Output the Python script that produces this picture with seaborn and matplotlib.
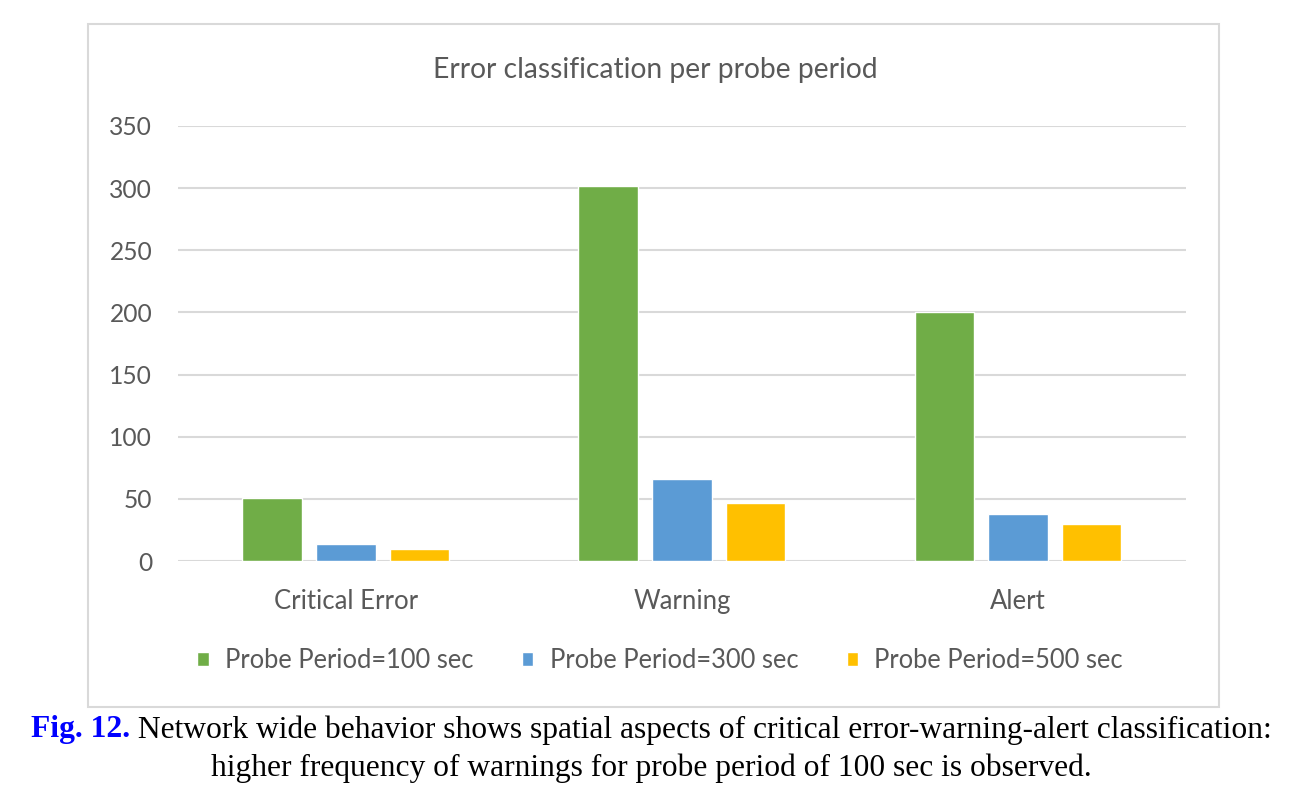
import matplotlib
matplotlib.use("Agg")
from matplotlib import pyplot as plt
from matplotlib.patches import Rectangle
import numpy as np
import pandas as pd
import seaborn as sns

# values
categories = ["Critical Error", "Warning", "Alert"]
periods = ["Probe Period=100 sec", "Probe Period=300 sec", "Probe Period=500 sec"]
p100 = [51, 302, 200]
p300 = [14, 66, 38]
p500 = [10, 47, 30]
colors = ["#70AD47", "#5B9BD5", "#FFC000"]
yticks = [0, 50, 100, 150, 200, 250, 300, 350]

df = pd.DataFrame({
    "category": categories * 3,
    "period": [periods[0]] * 3 + [periods[1]] * 3 + [periods[2]] * 3,
    "count": p100 + p300 + p500,
})

sns.set_style("white")
plt.rcParams["font.family"] = ["Lato", "DejaVu Sans"]
gray = "#595959"

fig = plt.figure(figsize=(13.02, 8.05), dpi=100)
ax = fig.add_axes([0.1367, 0.3031, 0.7742, 0.5404])

sns.barplot(data=df, x="category", y="count", hue="period", hue_order=periods,
            palette=colors, width=0.66, gap=0.2, saturation=1, ax=ax)

ax.set_ylim(0, 350)
ax.set_yticks(yticks)
ax.set_xlim(-0.5, 2.5)
ax.yaxis.grid(True, color="#d9d9d9", linewidth=1.5)
ax.set_axisbelow(True)
for s in ax.spines.values():
    s.set_visible(False)
ax.tick_params(axis="y", length=0, pad=18.5, labelsize=17.7, labelcolor=gray)
ax.tick_params(axis="x", length=0, pad=20, labelsize=18.5, labelcolor=gray)
ax.set_xlabel("")
ax.set_ylabel("")
fig.text(0.503, 0.913, "Error classification per probe period", fontsize=20.3,
         color=gray, ha="center", va="center")

leg = ax.legend(loc="center", bbox_to_anchor=(0.507, 0.179), bbox_transform=fig.transFigure,
                ncol=3, frameon=False, fontsize=18.4, handlelength=0.45, handleheight=0.45,
                columnspacing=1.9, handletextpad=0.63)
for t in leg.get_texts():
    t.set_color(gray)

# chart border
fig.patches.append(Rectangle((0.0676, 0.1217), 0.8687, 0.8484, transform=fig.transFigure,
                             fill=False, edgecolor="#d9d9d9", linewidth=1.5))

# caption
serif = ["Liberation Serif", "DejaVu Serif"]
fig.canvas.draw()
r = fig.canvas.get_renderer()
t1 = fig.text(0, 0.0932, "Fig. 12.", family=serif, fontsize=22.7, fontweight="bold",
              color="#0000FF", va="center")
t2 = fig.text(0, 0.0932, " Network wide behavior shows spatial aspects of critical error-warning-alert classification:",
              family=serif, fontsize=22.7, color="black", va="center")
w1 = t1.get_window_extent(r).width
w2 = t2.get_window_extent(r).width
x0 = (1302 - w1 - w2) / 2 / 1302
t1.set_x(x0)
t2.set_x(x0 + w1 / 1302)
fig.text(0.5, 0.046, "higher frequency of warnings for probe period of 100 sec is observed.",
         family=serif, fontsize=22.7, color="black", va="center", ha="center")

fig.savefig("out.png", dpi=100)
